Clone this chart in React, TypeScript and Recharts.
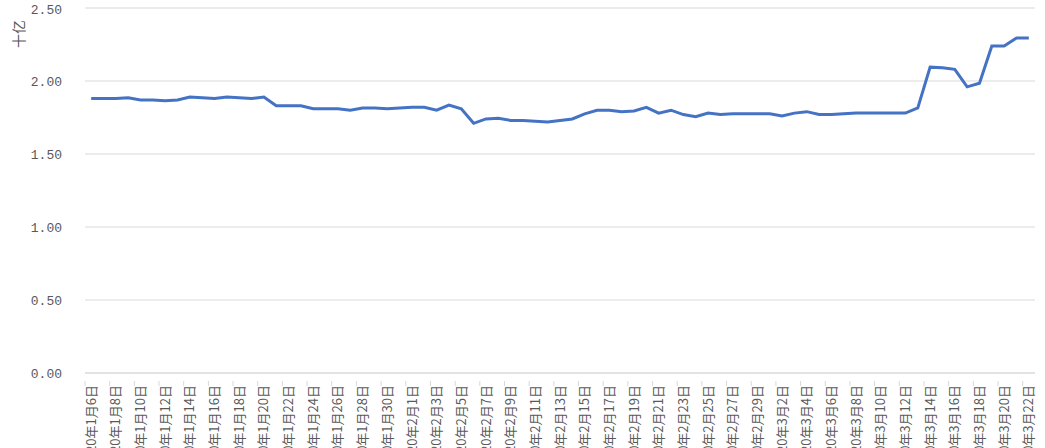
import React from 'react';
import { LineChart, Line, XAxis, YAxis, CartesianGrid } from 'recharts';

const dates: string[] = [
  '2020年1月6日','2020年1月7日','2020年1月8日','2020年1月9日','2020年1月10日','2020年1月11日','2020年1月12日','2020年1月13日','2020年1月14日','2020年1月15日',
  '2020年1月16日','2020年1月17日','2020年1月18日','2020年1月19日','2020年1月20日','2020年1月21日','2020年1月22日','2020年1月23日','2020年1月24日','2020年1月25日',
  '2020年1月26日','2020年1月27日','2020年1月28日','2020年1月29日','2020年1月30日','2020年1月31日','2020年2月1日','2020年2月2日','2020年2月3日','2020年2月4日',
  '2020年2月5日','2020年2月6日','2020年2月7日','2020年2月8日','2020年2月9日','2020年2月10日','2020年2月11日','2020年2月12日','2020年2月13日','2020年2月14日',
  '2020年2月15日','2020年2月16日','2020年2月17日','2020年2月18日','2020年2月19日','2020年2月20日','2020年2月21日','2020年2月22日','2020年2月23日','2020年2月24日',
  '2020年2月25日','2020年2月26日','2020年2月27日','2020年2月28日','2020年2月29日','2020年3月1日','2020年3月2日','2020年3月3日','2020年3月4日','2020年3月5日',
  '2020年3月6日','2020年3月7日','2020年3月8日','2020年3月9日','2020年3月10日','2020年3月11日','2020年3月12日','2020年3月13日','2020年3月14日','2020年3月15日',
  '2020年3月16日','2020年3月17日','2020年3月18日','2020年3月19日','2020年3月20日','2020年3月21日','2020年3月22日',
];

const values: number[] = [
  1.88, 1.88, 1.88, 1.885, 1.87, 1.87, 1.865, 1.87, 1.89, 1.885,
  1.88, 1.89, 1.885, 1.88, 1.89, 1.83, 1.83, 1.83, 1.81, 1.81,
  1.81, 1.80, 1.815, 1.815, 1.81, 1.815, 1.82, 1.82, 1.80, 1.835,
  1.81, 1.71, 1.74, 1.745, 1.73, 1.73, 1.725, 1.72, 1.73, 1.74,
  1.775, 1.80, 1.80, 1.79, 1.795, 1.82, 1.78, 1.80, 1.77, 1.755,
  1.78, 1.77, 1.775, 1.775, 1.775, 1.775, 1.76, 1.78, 1.79, 1.77,
  1.77, 1.775, 1.78, 1.78, 1.78, 1.78, 1.78, 1.815, 2.095, 2.09,
  2.08, 1.96, 1.985, 2.24, 2.24, 2.295, 2.295,
];

const yTicks: number[] = [0, 0.5, 1, 1.5, 2, 2.5];
const unitLabel = '十亿';

const data = dates.map((d, i) => ({ date: d, value: values[i] }));

const WIDTH = 1045;
const HEIGHT = 448;
const MARGIN = { top: 8, right: 10, left: 0, bottom: 0 };
const Y_AXIS_W = 85;
const X_AXIS_H = 75;
const PLOT_W = WIDTH - MARGIN.left - MARGIN.right - Y_AXIS_W;
const BAND = PLOT_W / dates.length;

const XTick = (props: any) => {
  const { x, y, payload } = props;
  return (
    <g>
      <line x1={x - BAND / 2} y1={y} x2={x - BAND / 2} y2={y + 5} stroke="#d9d9d9" />
      <text
        transform={`translate(${x},${y + 4}) rotate(-90)`}
        textAnchor="end"
        dy="0.35em"
        fontSize={13}
        fill="#595959"
        fontFamily="'Noto Sans CJK SC', sans-serif"
      >
        {payload.value}
      </text>
    </g>
  );
};

const YTick = (props: any) => {
  const { x, y, payload } = props;
  return (
    <text
      x={x - 15}
      y={y}
      dy="0.35em"
      textAnchor="end"
      fontSize={13}
      fill="#595959"
      fontFamily="'Liberation Mono', monospace"
    >
      {Number(payload.value).toFixed(2)}
    </text>
  );
};

export default function App() {
  return (
    <div style={{ position: 'absolute', left: 0, top: 0, background: '#fff' }}>
      <LineChart width={WIDTH} height={HEIGHT} data={data} margin={MARGIN}>
        <CartesianGrid vertical={false} stroke="#d9d9d9" />
        <XAxis
          dataKey="date"
          interval={1}
          height={X_AXIS_H}
          padding={{ left: BAND / 2, right: BAND / 2 }}
          tick={<XTick />}
          tickLine={false}
          axisLine={{ stroke: '#d9d9d9' }}
        />
        <YAxis
          domain={[0, 2.5]}
          ticks={yTicks}
          width={Y_AXIS_W}
          axisLine={false}
          tickLine={false}
          tick={<YTick />}
          label={{
            content: () => (
              <text
                transform="translate(24,34) rotate(-90)"
                textAnchor="middle"
                fontSize={14}
                fill="#595959"
                fontFamily="'Noto Sans CJK SC', sans-serif"
              >
                {unitLabel}
              </text>
            ),
          }}
        />
        <Line
          type="linear"
          dataKey="value"
          stroke="#4472C4"
          strokeWidth={3}
          dot={false}
          isAnimationActive={false}
        />
      </LineChart>
    </div>
  );
}
